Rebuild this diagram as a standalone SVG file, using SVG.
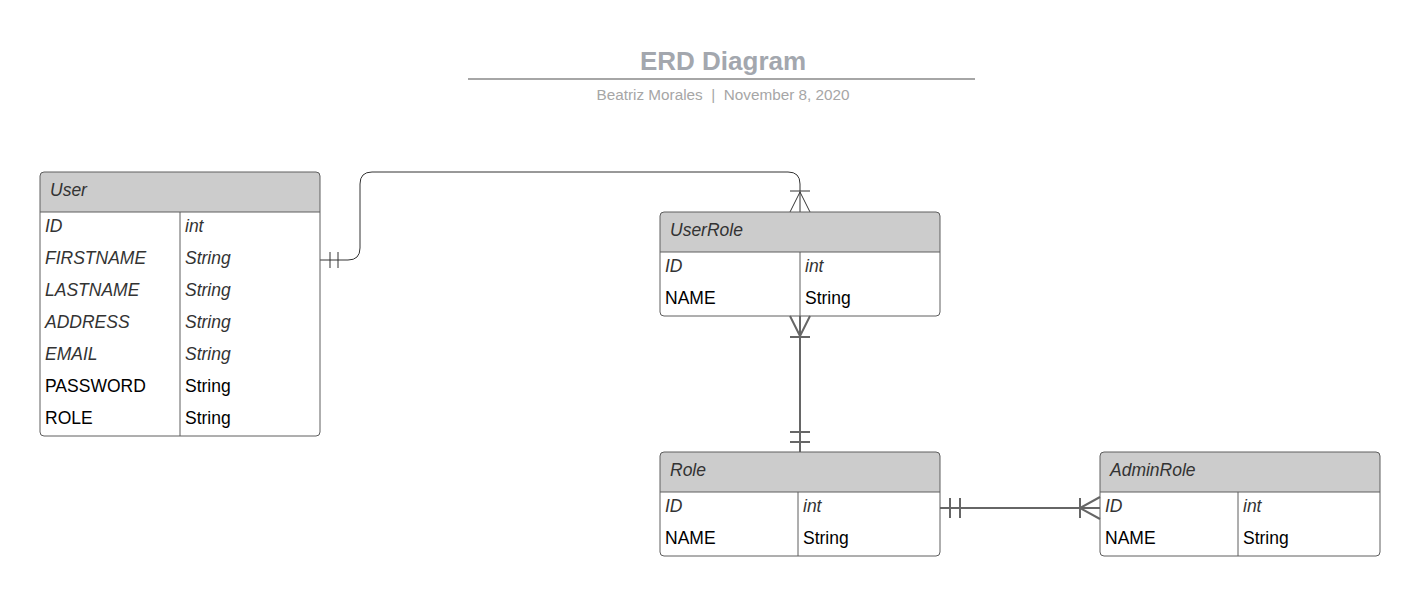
<svg xmlns="http://www.w3.org/2000/svg" width="1420" height="596" viewBox="0 0 1420 596">
<style>
.hdr{fill:#cccccc;}
.box{fill:none;stroke:#5e5e5e;stroke-width:1;}
.sep{stroke:#5e5e5e;stroke-width:1;}
.t{font-family:"Liberation Sans",Arial,sans-serif;font-size:17.5px;}
.ti{font-style:italic;fill:#333333;}
.tn{fill:#000000;}
.c1{fill:none;stroke:#333333;stroke-width:1;}
.c2{fill:none;stroke:#666666;stroke-width:2;}
</style>
<rect width="1420" height="596" fill="#ffffff"/>
<g id="title">
<text x="723" y="70" text-anchor="middle" font-family="Liberation Sans,Arial,sans-serif" font-size="26" font-weight="bold" fill="#a3a7ae">ERD Diagram</text>
<line x1="468" y1="79" x2="975" y2="79" stroke="#a6a6a6" stroke-width="2"/>
<text x="723" y="100" text-anchor="middle" font-family="Liberation Sans,Arial,sans-serif" font-size="15.3" fill="#a6a6a6" xml:space="preserve">Beatriz Morales  |  November 8, 2020</text>
</g>
<g id="connectors">
<path class="c1" d="M320,260 H348 Q360,260 360,248 V184 Q360,172 372,172 H788 Q800,172 800,184 V212"/>
<path class="c1" d="M330,252 V268 M338,252 V268"/>
<path class="c1" d="M790,191 H810 M790,212 L800,192 L810,212"/>
<path class="c2" d="M800,316 V452"/>
<path class="c2" d="M790,316 L800,336 L810,316 M790,337 H810"/>
<path class="c2" d="M790,432 H810 M790,442 H810"/>
<path class="c2" d="M940,508 H1100"/>
<path class="c2" d="M950,498 V518 M960,498 V518"/>
<path class="c2" d="M1080,498 V518 M1100,497 L1080,508 L1100,519"/>
</g>
<g id="User">
<path class="hdr" d="M44,172 H316 Q320,172 320,176 V212 H40 V176 Q40,172 44,172 Z"/>
<rect class="box" x="40" y="172" width="280" height="264" rx="4"/>
<line class="sep" x1="40" y1="212" x2="320" y2="212"/>
<line class="sep" x1="180" y1="212" x2="180" y2="436"/>
<text class="t ti" x="50" y="196">User</text>
<text class="t ti" x="45" y="232">ID</text><text class="t ti" x="185" y="232">int</text>
<text class="t ti" x="45" y="264">FIRSTNAME</text><text class="t ti" x="185" y="264">String</text>
<text class="t ti" x="45" y="296">LASTNAME</text><text class="t ti" x="185" y="296">String</text>
<text class="t ti" x="45" y="328">ADDRESS</text><text class="t ti" x="185" y="328">String</text>
<text class="t ti" x="45" y="360">EMAIL</text><text class="t ti" x="185" y="360">String</text>
<text class="t tn" x="45" y="392">PASSWORD</text><text class="t tn" x="185" y="392">String</text>
<text class="t tn" x="45" y="424">ROLE</text><text class="t tn" x="185" y="424">String</text>
</g>
<g id="UserRole">
<path class="hdr" d="M664,212 H936 Q940,212 940,216 V252 H660 V216 Q660,212 664,212 Z"/>
<rect class="box" x="660" y="212" width="280" height="104" rx="4"/>
<line class="sep" x1="660" y1="252" x2="940" y2="252"/>
<line class="sep" x1="800" y1="252" x2="800" y2="316"/>
<text class="t ti" x="670" y="236">UserRole</text>
<text class="t ti" x="665" y="272">ID</text><text class="t ti" x="805" y="272">int</text>
<text class="t tn" x="665" y="304">NAME</text><text class="t tn" x="805" y="304">String</text>
</g>
<g id="Role">
<path class="hdr" d="M664,452 H936 Q940,452 940,456 V492 H660 V456 Q660,452 664,452 Z"/>
<rect class="box" x="660" y="452" width="280" height="104" rx="4"/>
<line class="sep" x1="660" y1="492" x2="940" y2="492"/>
<line class="sep" x1="798" y1="492" x2="798" y2="556"/>
<text class="t ti" x="670" y="476">Role</text>
<text class="t ti" x="665" y="512">ID</text><text class="t ti" x="803" y="512">int</text>
<text class="t tn" x="665" y="544">NAME</text><text class="t tn" x="803" y="544">String</text>
</g>
<g id="AdminRole">
<path class="hdr" d="M1104,452 H1376 Q1380,452 1380,456 V492 H1100 V456 Q1100,452 1104,452 Z"/>
<rect class="box" x="1100" y="452" width="280" height="104" rx="4"/>
<line class="sep" x1="1100" y1="492" x2="1380" y2="492"/>
<line class="sep" x1="1238" y1="492" x2="1238" y2="556"/>
<text class="t ti" x="1110" y="476">AdminRole</text>
<text class="t ti" x="1105" y="512">ID</text><text class="t ti" x="1243" y="512">int</text>
<text class="t tn" x="1105" y="544">NAME</text><text class="t tn" x="1243" y="544">String</text>
</g>
</svg>
